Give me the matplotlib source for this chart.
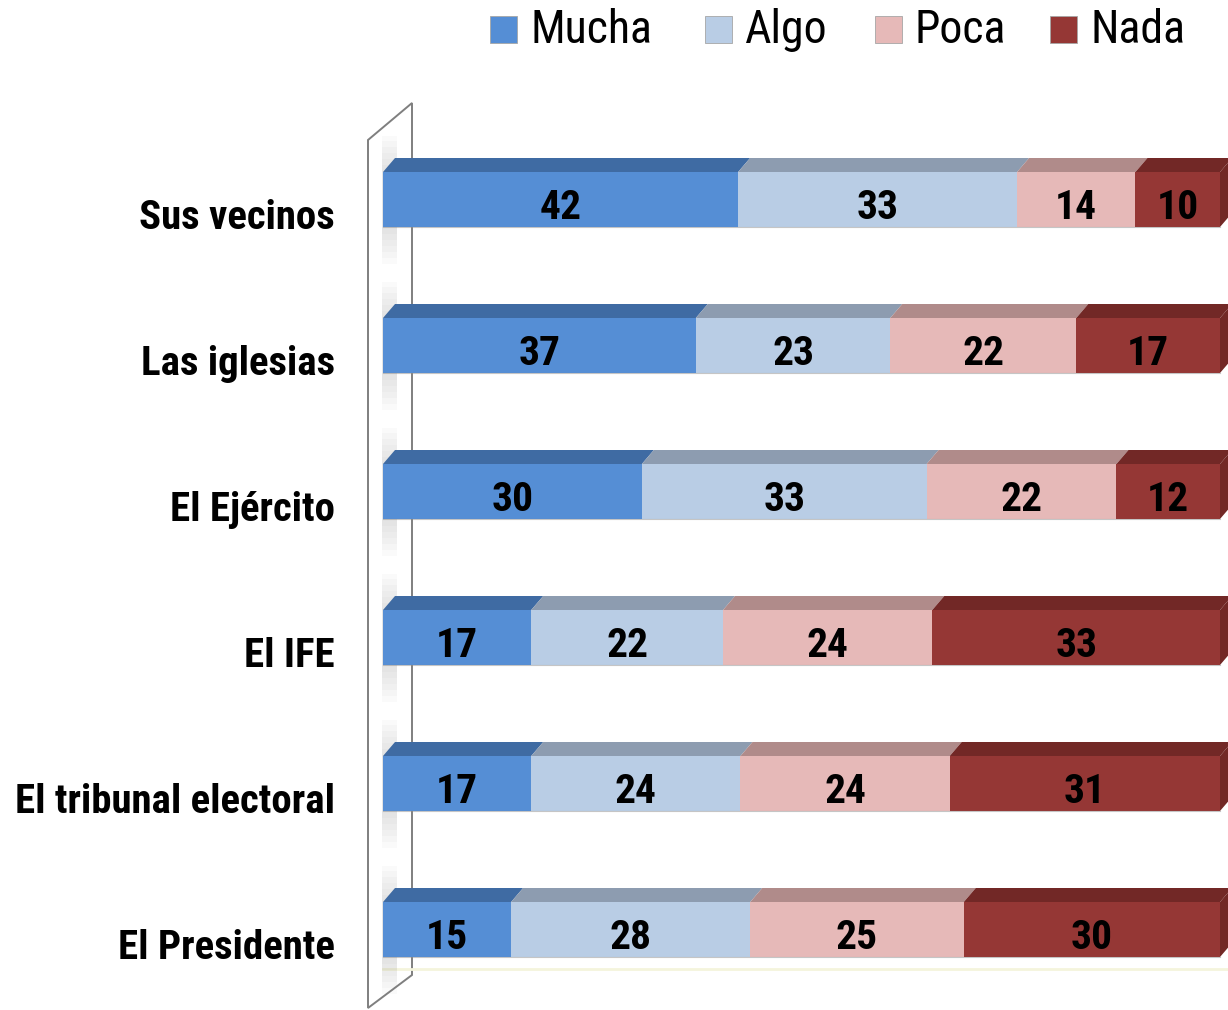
import matplotlib
matplotlib.use("Agg")
import matplotlib.pyplot as plt
from matplotlib.patches import Polygon, Rectangle
from matplotlib import font_manager as fm
import numpy as np

# Data
categories = ["Sus vecinos", "Las iglesias", "El Ejército", "El IFE",
              "El tribunal electoral", "El Presidente"]
series_names = ["Mucha", "Algo", "Poca", "Nada"]
mucha = [42, 37, 30, 17, 17, 15]
algo = [33, 23, 33, 22, 24, 28]
poca = [14, 22, 22, 24, 24, 25]
nada = [10, 17, 12, 33, 31, 30]

front_colors = ["#558ED5", "#B9CDE5", "#E6B9B8", "#953735"]
top_colors = ["#3F6BA3", "#8D9CB0", "#B08B8A", "#722826"]

# pick a narrow font if there is one (reference looks like Calibri)
names = {f.name for f in fm.fontManager.ttflist}
stretch = "normal"
family = "Roboto"
for cand in ["Liberation Sans Narrow", "Roboto Condensed", "Open Sans Condensed"]:
    if cand in names:
        family = cand
        break
else:
    path = fm.findfont(fm.FontProperties(family="DejaVu Sans", stretch="condensed", weight="bold"))
    if "Condensed" in path:
        family, stretch = "DejaVu Sans", "condensed"
plt.rcParams["font.family"] = [family, "DejaVu Sans"]
plt.rcParams["font.stretch"] = stretch

W, H = 1228, 1010
fig = plt.figure(figsize=(W / 100, H / 100), dpi=100)
ax = fig.add_axes([0, 0, 1, 1])
ax.axis("off")

# pixel -> data mapping (x: percent, y: row index)
x0_px, xpu = 383, 8.37
y0_px, ypu = 199.5, 146
ax.set_xlim(-x0_px / xpu, (W - x0_px) / xpu)
ax.set_ylim((H - y0_px) / ypu, -y0_px / ypu)

def px(x):
    return (x - x0_px) / xpu

def py(y):
    return (y - y0_px) / ypu

data = np.array([mucha, algo, poca, nada], dtype=float)
pct = data / data.sum(axis=0) * 100
lefts = np.vstack([np.zeros(len(categories)), np.cumsum(pct, axis=0)[:-1]])

bar_h = 55 / ypu
dx = 12 / xpu
dy = 14 / ypu

# wall on the left
wall = [(px(368), py(140)), (px(412), py(103)), (px(412), py(975)), (px(368), py(1008))]
ax.add_patch(Polygon(wall, closed=True, facecolor="white", edgecolor="#7F7F7F", lw=1.4, zorder=1))
# floor line
ax.plot([px(383), px(W)], [py(969), py(969)], color="#F4F4DC", lw=2, zorder=1)

renderer = fig.canvas.get_renderer()

def fit_size(txt, size, max_w, weight="bold"):
    t = fig.text(0, 0, txt, fontsize=size, fontweight=weight)
    w = t.get_window_extent(renderer).width
    t.remove()
    return min(size, size * max_w / w)

lab_size = fit_size("El tribunal electoral", 31, 320)
val_size = fit_size("42", 31, 42)

ys = np.arange(len(categories))
for i, y in enumerate(ys):
    top = y - bar_h / 2
    bot = y + bar_h / 2
    # soft shadow on the wall
    for k in range(6):
        ax.add_patch(Rectangle((px(382), top - 0.25 + k * 0.04), px(397) - px(382),
                               bar_h + 0.5 - k * 0.08, facecolor="gray", alpha=0.035,
                               lw=0, zorder=1.5))
    for s in range(len(series_names)):
        l = lefts[s, i]
        w = pct[s, i]
        r = l + w
        ax.barh(y, w, left=l, height=bar_h, color=front_colors[s], lw=0, zorder=3)
        ax.add_patch(Polygon([(l, top), (l + dx, top - dy), (r + dx, top - dy), (r, top)],
                             closed=True, facecolor=top_colors[s], lw=0, zorder=2 + s * 0.01))
        if s == len(series_names) - 1:
            ax.add_patch(Polygon([(r, top), (r + dx, top - dy), (r + dx, bot - dy), (r, bot)],
                                 closed=True, facecolor=top_colors[s], lw=0, zorder=2.5))
        ax.text(l + w / 2, y + 0.055, f"{int(data[s, i])}", ha="center", va="center",
                fontsize=val_size, fontweight="bold", color="black", zorder=4)
    # bottom edge line
    ax.plot([0, 100], [bot, bot], color="#8C8C8C", lw=0.8, alpha=0.5, zorder=3.5)
    ax.text(px(335), y + 0.13, categories[i], ha="right", va="center",
            fontsize=lab_size, fontweight="bold", color="black")

# legend drawn by hand to match the reference placement
leg_x = [490, 705, 875, 1050]
leg_size = fit_size("Mucha", 33, 124, weight="normal")
for s, name in enumerate(series_names):
    fig.patches.append(Rectangle((leg_x[s] / W, 1 - 43 / H), 27 / W, 27 / H,
                                 transform=fig.transFigure, facecolor=front_colors[s],
                                 edgecolor="#A6A6A6", lw=0.6))
    fig.text((leg_x[s] + 40) / W, 1 - 30 / H, name, ha="left", va="center",
             fontsize=leg_size, color="black")

fig.savefig("out.png", dpi=100)
